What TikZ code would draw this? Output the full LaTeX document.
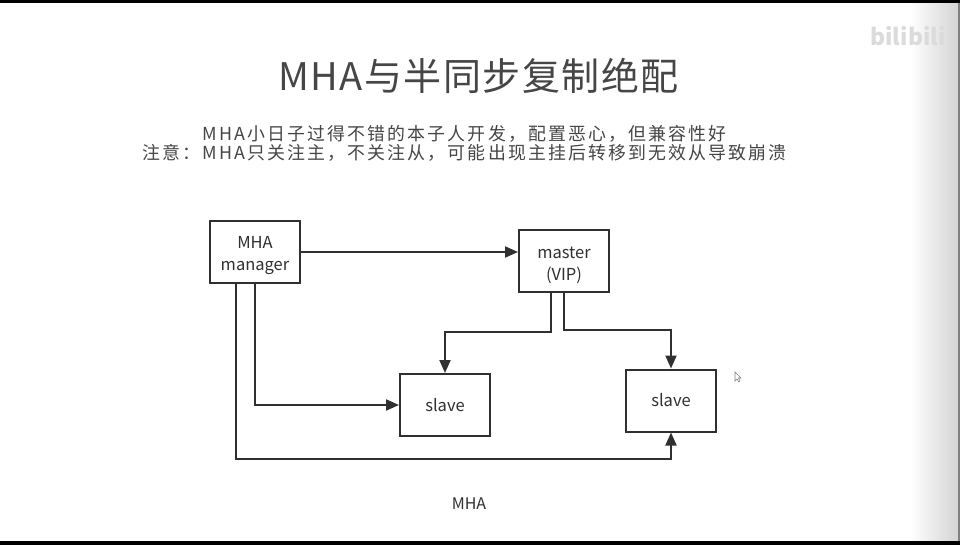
\documentclass[tikz,border=0pt]{standalone}
\usepackage{fontspec}
\usepackage{xcolor}
\usepackage{tikz}
\usetikzlibrary{arrows.meta,positioning}
\setmainfont{Noto Sans CJK SC}
\newfontfamily\spaced[LetterSpace=12]{Noto Sans CJK SC}
\newfontfamily\wide[LetterSpace=4]{Noto Sans CJK SC}
\definecolor{mhaink}{RGB}{48,48,48}
\definecolor{mhatext}{RGB}{70,70,70}
\definecolor{mhaedge}{RGB}{212,212,212}
\newcommand{\lowstrut}{\rule{0pt}{20pt}}
\tikzstyle{arrow} = [line width=2pt,->,>={Stealth[length=13pt,width=11pt,inset=0pt]},color=mhaink]
\tikzstyle{hostbox} = [rectangle, minimum width=90pt, minimum height=62pt, align=center, draw=mhaink, fill=white, line width=2pt, text=mhaink, font=\fontsize{16.5}{22}\selectfont]
\begin{document}
\begin{tikzpicture}[x=1pt,y=-1pt]
\useasboundingbox (0,0) rectangle (961,545);
% Slide
\fill[white] (0,0) rectangle (961,545);
\fill[left color=white, right color=mhaedge] (910,0) rectangle (958,545);
\fill[gray] (958,0) rectangle (960,545);
\fill[black] (0,0) rectangle (960,3);
\fill[black] (0,541) rectangle (960,545);
\node[font=\bfseries\fontsize{23}{23}\selectfont, text=black!14] (logo) at (908,36) {bilibili};

% Heading
\node[font=\wide\fontsize{38}{38}\selectfont, text=mhatext] (title) at (478.5,76) {MHA与半同步复制绝配};
\node[font=\spaced\fontsize{17.9}{18}\selectfont, text=mhatext] (note1) at (464.5,134) {MHA小日子过得不错的本子人开发，配置恶心，但兼容性好};
\node[font=\spaced\fontsize{17.9}{18}\selectfont, text=mhatext] (note2) at (464.5,153) {注意：MHA只关注主，不关注从，可能出现主挂后转移到无效从导致崩溃};

% Hosts
\node[hostbox] (manager) at (255,252) {\lowstrut MHA\\manager};
\node[hostbox] (master) at (564,261) {\lowstrut master\\(VIP)};
\node[hostbox] (slaveA) at (445,405) {slave};
\node[hostbox] (slaveB) at (671,400.5) {slave};

% Links
\draw[arrow] (manager.east) -- (manager.east -| master.west);
\draw[arrow] (manager.south) |- (slaveA.west);
\draw[arrow] ([xshift=-19pt]manager.south) -- ++(0,175) -| (slaveB.south);
\draw[arrow] ([xshift=-13pt]master.south) -- ++(0,39) -| (slaveA.north);
\draw[arrow] (master.south) -- ++(0,37) -| (slaveB.north);

\node[font=\fontsize{16}{16}\selectfont, text=mhaink] (caption) at (469,504) {MHA};

% Pointer
\draw[gray, fill=white, line width=0.6pt] (735,372) -- (735,381) -- (737,379) -- (739,382) -- (740,381) -- (738.5,378) -- (741,378) -- cycle;
\end{tikzpicture}
\end{document}
